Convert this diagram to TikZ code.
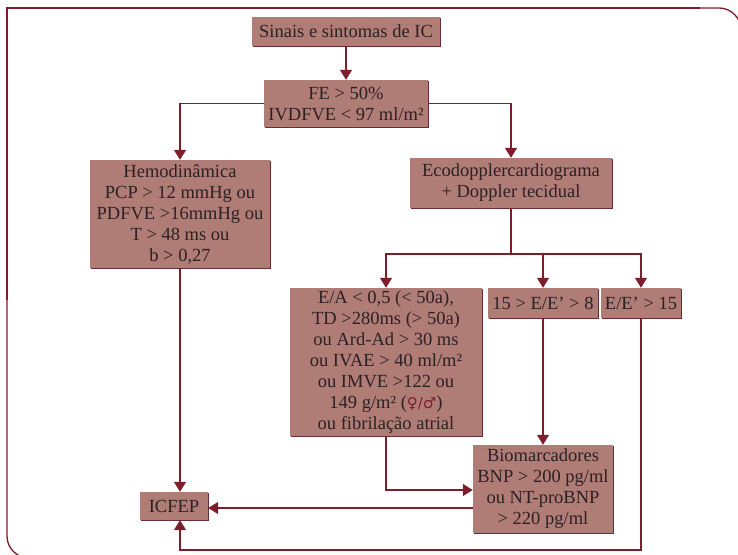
\documentclass[tikz,border=0pt]{standalone}
\usepackage{fontspec}
\setmainfont{Liberation Serif}
\newfontfamily\symbfont{DejaVu Sans}
\usetikzlibrary{arrows.meta,shadows,calc}

\definecolor{boxfill}{RGB}{176,124,118}
\definecolor{linecol}{RGB}{125,30,45}
\definecolor{shadowcol}{RGB}{105,45,52}
\definecolor{textcol}{RGB}{45,33,36}

\tikzset{
  box/.style={fill=boxfill, draw=none, align=center, inner sep=0pt,
    text=textcol, font=\fontsize{18.5}{21}\selectfont,
    general shadow={fill=shadowcol, shadow xshift=1.3pt, shadow yshift=-1.3pt}},
  link/.style={draw=linecol, line width=1.4pt},
  arr/.style={link, -{Triangle[width=12pt,length=10pt]}},
  frame/.style={draw=linecol, line width=1.3pt}
}

\begin{document}
\begin{tikzpicture}[x=1pt,y=-1pt]
\useasboundingbox (0,0) rectangle (738,554);
\clip (0,0) rectangle (738,554);

% outer frame: square top-left, rounded top-right and bottom-left
\draw[frame] (7,300) -- (7,8) -- (700,8);
\draw[frame, rounded corners=22pt] (600,8) -- (741,8) -- (741,300);
\draw[frame, rounded corners=22pt] (7,300) -- (7,558) -- (300,558);

% boxes
\node[box, minimum width=188, minimum height=29] (sinais) at (346,31.5) {Sinais e sintomas de IC};
\node[box, minimum width=164, minimum height=47] (fe) at (346,103.5) {FE > 50\%\\IVDFVE < 97 ml/m²};
\node[box, minimum width=180, minimum height=108] (hemo) at (180,214)
  {Hemodinâmica\\PCP > 12 mmHg ou\\PDFVE >16mmHg ou\\T > 48 ms ou\\b > 0,27};
\node[box, minimum width=202, minimum height=50] (eco) at (511,183)
  {Ecodopplercardiograma\\+ Doppler tecidual};
\node[box, minimum width=192, minimum height=148] (ea) at (386,362)
  {E/A < 0,5 (< 50a),\\TD >280ms (> 50a)\\ou Ard-Ad > 30 ms\\ou IVAE > 40 ml/m²\\ou IMVE >122 ou\\149 g/m² ({\color{linecol}\symbfont\fontsize{15}{21}\selectfont ♀/♂})\\ou fibrilação atrial};
\node[box, minimum width=110, minimum height=30] (e8) at (543,303) {15 > E/E’ > 8};
\node[box, minimum width=80, minimum height=30] (e15) at (641,303) {E/E’ > 15};
\node[box, minimum width=140, minimum height=88] (bio) at (543,489)
  {Biomarcadores\\BNP > 200 pg/ml\\ou NT-proBNP\\> 220 pg/ml};
\node[box, minimum width=68, minimum height=28] (icfep) at (174,506) {ICFEP};

% connectors
\draw[arr] (sinais.south) -- (fe.north);
\draw[arr] (fe.west) -| (hemo.north);
\draw[arr] (fe.east) -| (eco.north);
\coordinate (split) at (eco.south |- 0,254);
\draw[link] (eco.south) -- (split);
\draw[arr] (split) -| (ea.north);
\draw[arr] (split) -| (e8.north);
\draw[arr] (split) -| (e15.north);
\draw[arr] (hemo.south) -- (hemo.south |- icfep.north);
\draw[arr] (ea.south) |- (bio.west |- 0,490);
\draw[arr] (e8.south) -- (bio.north);
\draw[arr] (bio.west |- 0,508) -- (icfep.east |- 0,508);
\coordinate (loop) at (e15.south |- 0,550);
\draw[arr] (e15.south) -- (loop) -| (hemo.south |- icfep.south);
\end{tikzpicture}
\end{document}
